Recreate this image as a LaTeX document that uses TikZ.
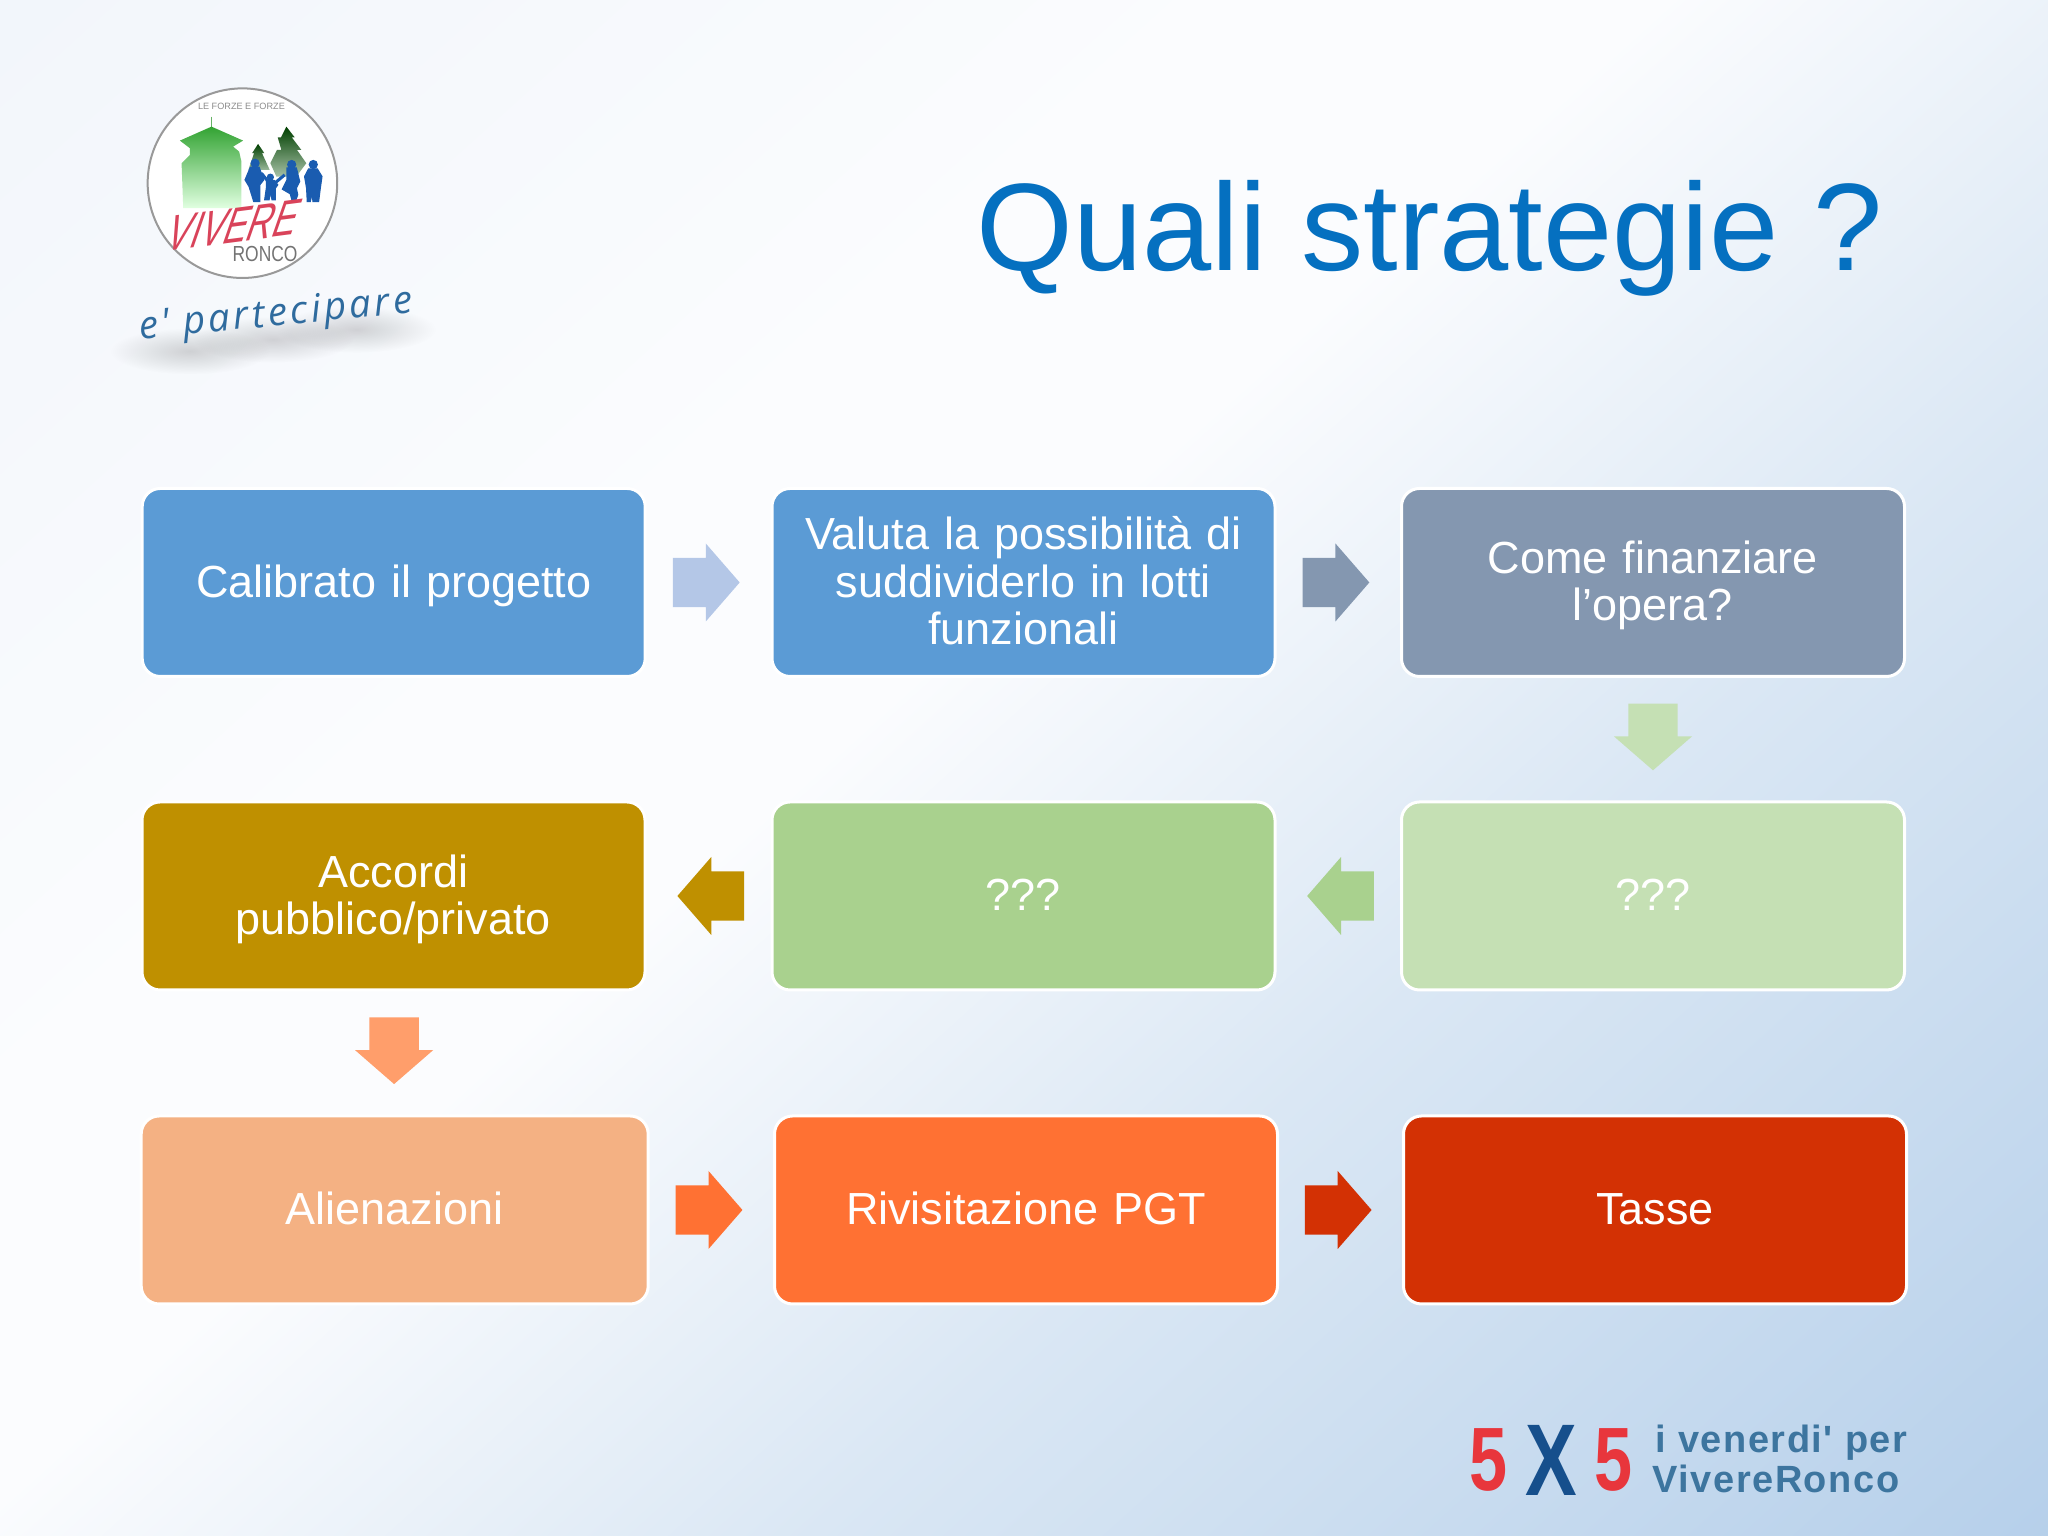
\documentclass[tikz,border=0pt]{standalone}
\usepackage{fontspec}
\usepackage{xcolor}
\usepackage{tikz}
\usetikzlibrary{positioning}
\usetikzlibrary{calc}
\usetikzlibrary{shapes.arrows}
\usetikzlibrary{fadings}
\setmainfont{Liberation Sans}
\newfontfamily\handfont[LetterSpace=8.5]{Open Sans}
\newfontfamily\footfont[LetterSpace=4]{Liberation Sans}

\definecolor{bgtop}{HTML}{F2F6FB}
\definecolor{bgmid}{HTML}{FBFCFE}
\definecolor{bgfar}{HTML}{DAE7F4}
\definecolor{bgend}{HTML}{B5CFEA}
\definecolor{titleblue}{HTML}{0570C0}
\definecolor{boxblue}{HTML}{5B9BD5}
\definecolor{boxgrey}{HTML}{8497B0}
\definecolor{boxpale}{HTML}{C5E0B4}
\definecolor{boxgreen}{HTML}{A9D18E}
\definecolor{boxgold}{HTML}{BF9000}
\definecolor{boxpeach}{HTML}{F4B183}
\definecolor{boxorange}{HTML}{FF7133}
\definecolor{boxred}{HTML}{D33104}
\definecolor{arrowpale}{HTML}{B4C7E7}
\definecolor{arrowpeach}{HTML}{FF9E6B}
\definecolor{peopleblue}{HTML}{1A5CB0}
\definecolor{vivered}{HTML}{D9435A}
\definecolor{handblue}{HTML}{2F6B9E}
\definecolor{fivered}{HTML}{E8363C}
\definecolor{crossblue}{HTML}{164F8C}
\definecolor{footblue}{HTML}{3D759F}

\pgfdeclarehorizontalshading{slidebg}{100bp}{
  color(0bp)=(bgtop); color(15bp)=(bgtop); color(38bp)=(bgmid);
  color(46bp)=(bgmid); color(62bp)=(bgfar); color(86bp)=(bgend); color(100bp)=(bgend)}
\tikzfading[name=softblob, inner color=transparent!84, outer color=transparent!100]

\tikzset{
  stepbox/.style={draw=white, line width=0.03cm, rounded corners=0.18cm, text=white,
    minimum width=5.03cm, minimum height=1.88cm, text width=4.7cm, align=center,
    inner sep=0pt, font=\fontsize{12.8}{13.5}\selectfont,
    execute at begin node={\rule{0pt}{12.4pt}},
    execute at end node={\rule[-4pt]{0pt}{4pt}}},
  blockarrow/.style={single arrow, single arrow head extend=0.143cm,
    single arrow tip angle=98, minimum height=0.667cm},
  goright/.style={blockarrow, inner xsep=0pt, inner ysep=0.24cm, xshift=-0.13cm},
  goleft/.style={blockarrow, inner xsep=0pt, inner ysep=0.24cm, shape border rotate=180, xshift=0.13cm},
  godown/.style={blockarrow, inner xsep=0.24cm, inner ysep=0pt, shape border rotate=270, yshift=0.13cm},
}

\begin{document}
\begin{tikzpicture}
    \useasboundingbox (0,0) rectangle (20.48,15.36);

    % Background
    \shade[shading=slidebg, shading angle=-48] (0,0) rectangle (20.48,15.36);

    % Title
    \node[anchor=base, text=titleblue, font=\fontsize{35.4}{40}\selectfont] (title) at (14.295,12.655) {Quali strategie ?};

    % Boxes
    \node[stepbox, fill=boxblue] (calib) at (3.937,9.535) {Calibrato il progetto};
    \node[stepbox, fill=boxblue] (valuta) at (10.235,9.535) {Valuta la possibilità di\\suddividerlo in lotti\\funzionali};
    \node[stepbox, fill=boxgrey] (finanz) at (16.53,9.535) {Come finanziare\\l’opera?};
    \node[stepbox, fill=boxgold] (accordi) at (3.935,6.40) {Accordi\\pubblico/privato};
    \node[stepbox, fill=boxgreen] (qmid) at (10.235,6.40) {???};
    \node[stepbox, fill=boxpale] (qright) at (16.53,6.40) {???};
    \node[stepbox, fill=boxpeach, minimum width=5.07cm] (alien) at (3.947,3.26) {Alienazioni};
    \node[stepbox, fill=boxorange] (rivis) at (10.26,3.26) {Rivisitazione PGT};
    \node[stepbox, fill=boxred] (tasse) at (16.55,3.26) {Tasse};

    % Block arrows between the boxes
    \node[goright, fill=arrowpale] (calibvaluta) at ($(calib.east)!0.5!(valuta.west)$) {};
    \node[goright, fill=boxgrey] (valutafinanz) at ($(valuta.east)!0.5!(finanz.west)$) {};
    \node[godown, fill=boxpale] (finanzq) at ($(finanz.south)!0.5!(qright.north)$) {};
    \node[goleft, fill=boxgreen] (qq) at ($(qright.west)!0.5!(qmid.east)$) {};
    \node[goleft, fill=boxgold] (qaccordi) at ($(qmid.west)!0.5!(accordi.east)$) {};
    \node[godown, fill=arrowpeach] (accordialien) at ($(accordi.south)!0.5!(alien.north)$) {};
    \node[goright, fill=boxorange] (alienrivis) at ($(alien.east)!0.5!(rivis.west)$) {};
    \node[goright, fill=boxred] (rivistasse) at ($(rivis.east)!0.5!(tasse.west)$) {};

    % Logo
    \begin{scope}[shift={(1.40,14.16)}, x=0.003333cm, y=-0.003333cm]
        % soft shadow under the script
        \foreach \sx/\sy in {150/695, 400/660, 650/630}
            \fill[black, path fading=softblob] (\sx,\sy) ellipse [x radius=240, y radius=70];
        \filldraw[draw=black!40, fill=white, line width=0.02cm] (308,190) circle (285);
        \node[text=black!45, font=\fontsize{2.6}{3}\selectfont] (logotop) at (305,-42) {LE FORZE E FORZE};
        % tower
        \draw[green!50!black!60, line width=0.012cm] (215,-10) -- (215,20);
        \shade[top color=green!55!black!80!white, bottom color=green!12] (215,20) -- (310,62) -- (280,80) -- (298,95) -- (305,125)
            -- (305,265) -- (130,265) -- (125,130) -- (150,105) -- (150,85) -- (120,62) -- cycle;
        % trees
        \shade[top color=green!25!black, bottom color=green!30!black!35] (440,20) -- (465,52) -- (456,52) -- (485,90) -- (472,90)
            -- (500,130) -- (470,170) -- (410,170) -- (392,130) -- (412,90) -- (425,90) -- (414,52) -- (424,52) -- cycle;
        \shade[top color=green!25!black, bottom color=green!30!black!40] (355,72) -- (374,100) -- (367,100) -- (390,150) -- (326,150)
            -- (343,100) -- (337,100) -- cycle;
        % family
        \begin{scope}[fill=peopleblue, draw=peopleblue, line width=0.012cm]
            \filldraw (346,130) circle (12);
            \filldraw (392,172) circle (9);
            \filldraw (456,134) circle (12);
            \filldraw (521,134) circle (12);
            \filldraw (332,142) -- (358,142) -- (372,180) -- (360,195) -- (360,245) -- (342,245) -- (328,200) -- (316,180) -- cycle;
            \filldraw (380,182) -- (404,182) -- (414,195) -- (407,205) -- (407,240) -- (397,240) -- (393,215) -- (388,240) -- (375,240) -- (380,205) -- cycle;
            \filldraw (442,144) -- (470,144) -- (480,185) -- (470,205) -- (474,225) -- (467,245) -- (458,245) -- (452,222) -- (428,208) -- (442,180) -- cycle;
            \filldraw (507,147) -- (533,147) -- (547,170) -- (542,205) -- (537,245) -- (520,245) -- (518,218) -- (512,245) -- (503,245) -- (501,205) -- (495,170) -- cycle;
            \draw[line width=0.03cm] (365,160) -- (385,185);
            \draw[line width=0.03cm] (405,190) -- (435,165);
        \end{scope}
        % lettering
        \node[text=vivered, rotate=7.4, xslant=0.5, xscale=0.72, font=\fontsize{14}{16}\selectfont] (vivere) at (284,317) {VIVERE};
        \node[text=black!55, xscale=0.8, font=\fontsize{6.2}{7}\selectfont] (ronco) at (376,403) {RONCO};
        % script
        \node[text=handblue, rotate=5.6, font=\handfont\itshape\fontsize{11}{12}\selectfont] (part) at (409,590) {e' partecipare};
    \end{scope}

    % Footer
    \node[text=fivered, xscale=0.76, font=\bfseries\fontsize{25.6}{28}\selectfont] (fivea) at (14.89,0.76) {5};
    \node[text=crossblue, xscale=0.76, font=\bfseries\fontsize{29}{32}\selectfont] (cross) at (15.51,0.76) {X};
    \node[text=fivered, xscale=0.76, font=\bfseries\fontsize{25.6}{28}\selectfont] (fiveb) at (16.135,0.76) {5};
    \node[anchor=west, inner sep=0pt, align=left, text=footblue, font=\footfont\bfseries\fontsize{10.8}{11.4}\selectfont] (footer) at (16.52,0.77) {\hspace{0.03cm}i venerdi' per\\VivereRonco};
\end{tikzpicture}
\end{document}
